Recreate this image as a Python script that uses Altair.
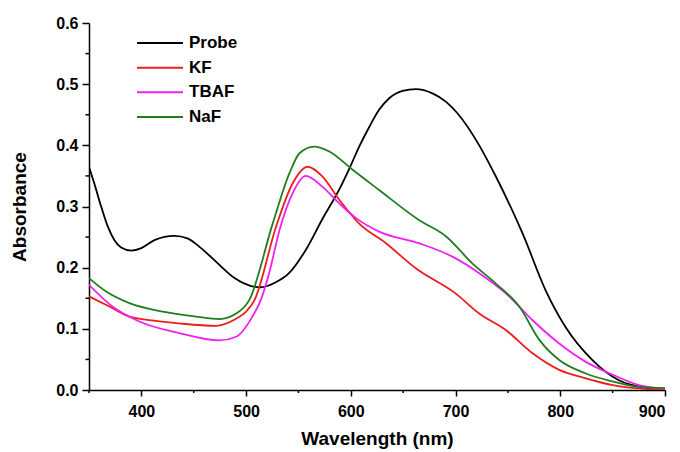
import altair as alt
import pandas as pd

series_names = ["Probe", "KF", "TBAF", "NaF"]
series_colors = ["#000000", "#ee1c1c", "#f020f0", "#1f7f1f"]

probe_wl = [350, 355, 361.6, 368, 374.3, 380.7, 390.3, 400, 412.5, 431.6, 444, 457, 473, 489, 504.8, 514, 527, 541, 557, 573, 589, 598.6, 608, 617.6, 627, 636.7, 649.4, 662, 678, 691, 702, 722.6, 738.5, 764, 786, 805, 830.7, 856, 881.7, 900]
probe_ab = [0.365, 0.338, 0.300, 0.267, 0.245, 0.233, 0.228, 0.232, 0.245, 0.252, 0.248, 0.232, 0.207, 0.183, 0.170, 0.168, 0.175, 0.191, 0.229, 0.280, 0.328, 0.362, 0.398, 0.430, 0.458, 0.477, 0.489, 0.492, 0.485, 0.471, 0.452, 0.400, 0.349, 0.256, 0.163, 0.103, 0.049, 0.016, 0.004, 0.002]

kf_wl = [350, 370, 388.6, 410, 436, 471, 490, 500, 508, 528.6, 544.5, 558.8, 573, 589, 608, 633.5, 662, 700, 722.6, 748, 773.5, 799, 824.4, 850, 880, 900]
kf_ab = [0.153, 0.136, 0.120, 0.114, 0.109, 0.105, 0.116, 0.128, 0.147, 0.267, 0.338, 0.365, 0.349, 0.311, 0.272, 0.240, 0.199, 0.158, 0.125, 0.098, 0.060, 0.033, 0.019, 0.008, 0.002, 0.001]

tbaf_wl = [350, 372.7, 398, 436, 474.5, 490.5, 506, 514, 522, 532, 544.5, 557, 573, 589, 605, 627, 665, 697, 722.6, 748, 773.5, 799, 824.4, 850, 875, 900]
tbaf_ab = [0.172, 0.136, 0.112, 0.093, 0.081, 0.087, 0.120, 0.147, 0.191, 0.262, 0.322, 0.350, 0.332, 0.305, 0.281, 0.259, 0.240, 0.218, 0.191, 0.158, 0.114, 0.076, 0.046, 0.025, 0.008, 0.002]

naf_wl = [350, 366.4, 388.6, 420.4, 452, 474.5, 490.5, 503, 525.4, 541.3, 551, 565, 579.5, 601.7, 627, 665, 691, 716, 738.5, 761, 780, 799, 824.4, 850, 875, 900]
naf_ab = [0.183, 0.161, 0.142, 0.128, 0.120, 0.116, 0.125, 0.147, 0.272, 0.354, 0.387, 0.398, 0.390, 0.360, 0.327, 0.278, 0.251, 0.207, 0.174, 0.136, 0.082, 0.049, 0.027, 0.014, 0.005, 0.003]

x_major = [400, 500, 600, 700, 800, 900]
x_minor = [350, 450, 550, 650, 750, 850]
y_major = [0.0, 0.1, 0.2, 0.3, 0.4, 0.5, 0.6]
y_minor = [0.05, 0.15, 0.25, 0.35, 0.45, 0.55]

rows = []
for name, wl, ab in [("Probe", probe_wl, probe_ab), ("KF", kf_wl, kf_ab),
                     ("TBAF", tbaf_wl, tbaf_ab), ("NaF", naf_wl, naf_ab)]:
    for w, a in zip(wl, ab):
        rows.append({"series": name, "wl": w, "ab": a})
df = pd.DataFrame(rows)
legend_df = pd.DataFrame({"series": series_names, "row": list(range(len(series_names)))})

FONT = "Liberation Sans"
W, H = 576, 367

xscale = alt.Scale(domain=[350, 900], nice=False, zero=False)
yscale = alt.Scale(domain=[0, 0.6], nice=False, zero=True)
color_scale = alt.Scale(domain=series_names, range=series_colors)
legend_rows = alt.Scale(domain=[0, 3], range=[20, 94], nice=False, zero=False)

lines = alt.Chart(df).mark_line(strokeWidth=1.8, interpolate="monotone", clip=True).encode(
    x=alt.X("wl:Q", scale=xscale,
            axis=alt.Axis(values=x_major, title="Wavelength (nm)", grid=False,
                          tickSize=6, tickWidth=1.5, domainWidth=1.5, domainColor="black",
                          tickColor="black", labelFont=FONT, labelFontSize=16,
                          labelFontWeight="bold", labelColor="black", labelPadding=7,
                          titleFont=FONT, titleFontSize=19, titleFontWeight="bold",
                          titleColor="black", titlePadding=10)),
    y=alt.Y("ab:Q", scale=yscale,
            axis=alt.Axis(values=y_major, format=".1f", title="Absorbance", grid=False,
                          tickSize=7, tickWidth=1.5, domainWidth=1.5, domainColor="black",
                          tickColor="black", labelFont=FONT, labelFontSize=16,
                          labelFontWeight="bold", labelColor="black", labelPadding=4,
                          titleFont=FONT, titleFontSize=19, titleFontWeight="bold",
                          titleColor="black", titlePadding=26)),
    color=alt.Color("series:N", scale=color_scale, legend=None),
    detail="series:N",
)

xminor = alt.Chart(pd.DataFrame({"wl": x_minor})).mark_rule(
    color="black", strokeWidth=1.5, clip=False).encode(
    x=alt.X("wl:Q", scale=xscale),
    y=alt.value(H), y2=alt.value(H + 3),
)
yminor = alt.Chart(pd.DataFrame({"ab": y_minor})).mark_rule(
    color="black", strokeWidth=1.5, clip=False).encode(
    y=alt.Y("ab:Q", scale=yscale, axis=None),
    x=alt.value(0), x2=alt.value(-3.5),
)

leg_lines = alt.Chart(legend_df).mark_rule(strokeWidth=2).encode(
    y=alt.Y("row:Q", scale=legend_rows, axis=None),
    x=alt.value(48), x2=alt.value(94),
    color=alt.Color("series:N", scale=color_scale, legend=None),
)
leg_text = alt.Chart(legend_df).mark_text(
    align="left", baseline="middle", font=FONT, fontSize=17, fontWeight="bold",
    color="black").encode(
    y=alt.Y("row:Q", scale=legend_rows, axis=None),
    x=alt.value(100),
    text="series:N",
)

chart = alt.layer(lines, xminor, yminor, leg_lines, leg_text).resolve_scale(
    y="independent"
).properties(
    width=W, height=H,
    autosize=alt.AutoSizeParams(type="none"),
    padding={"left": 89, "top": 23, "right": 15, "bottom": 62},
    background="white",
).configure_view(stroke=None)

chart.save("out.html", embed_options={"renderer": "svg", "actions": False})
